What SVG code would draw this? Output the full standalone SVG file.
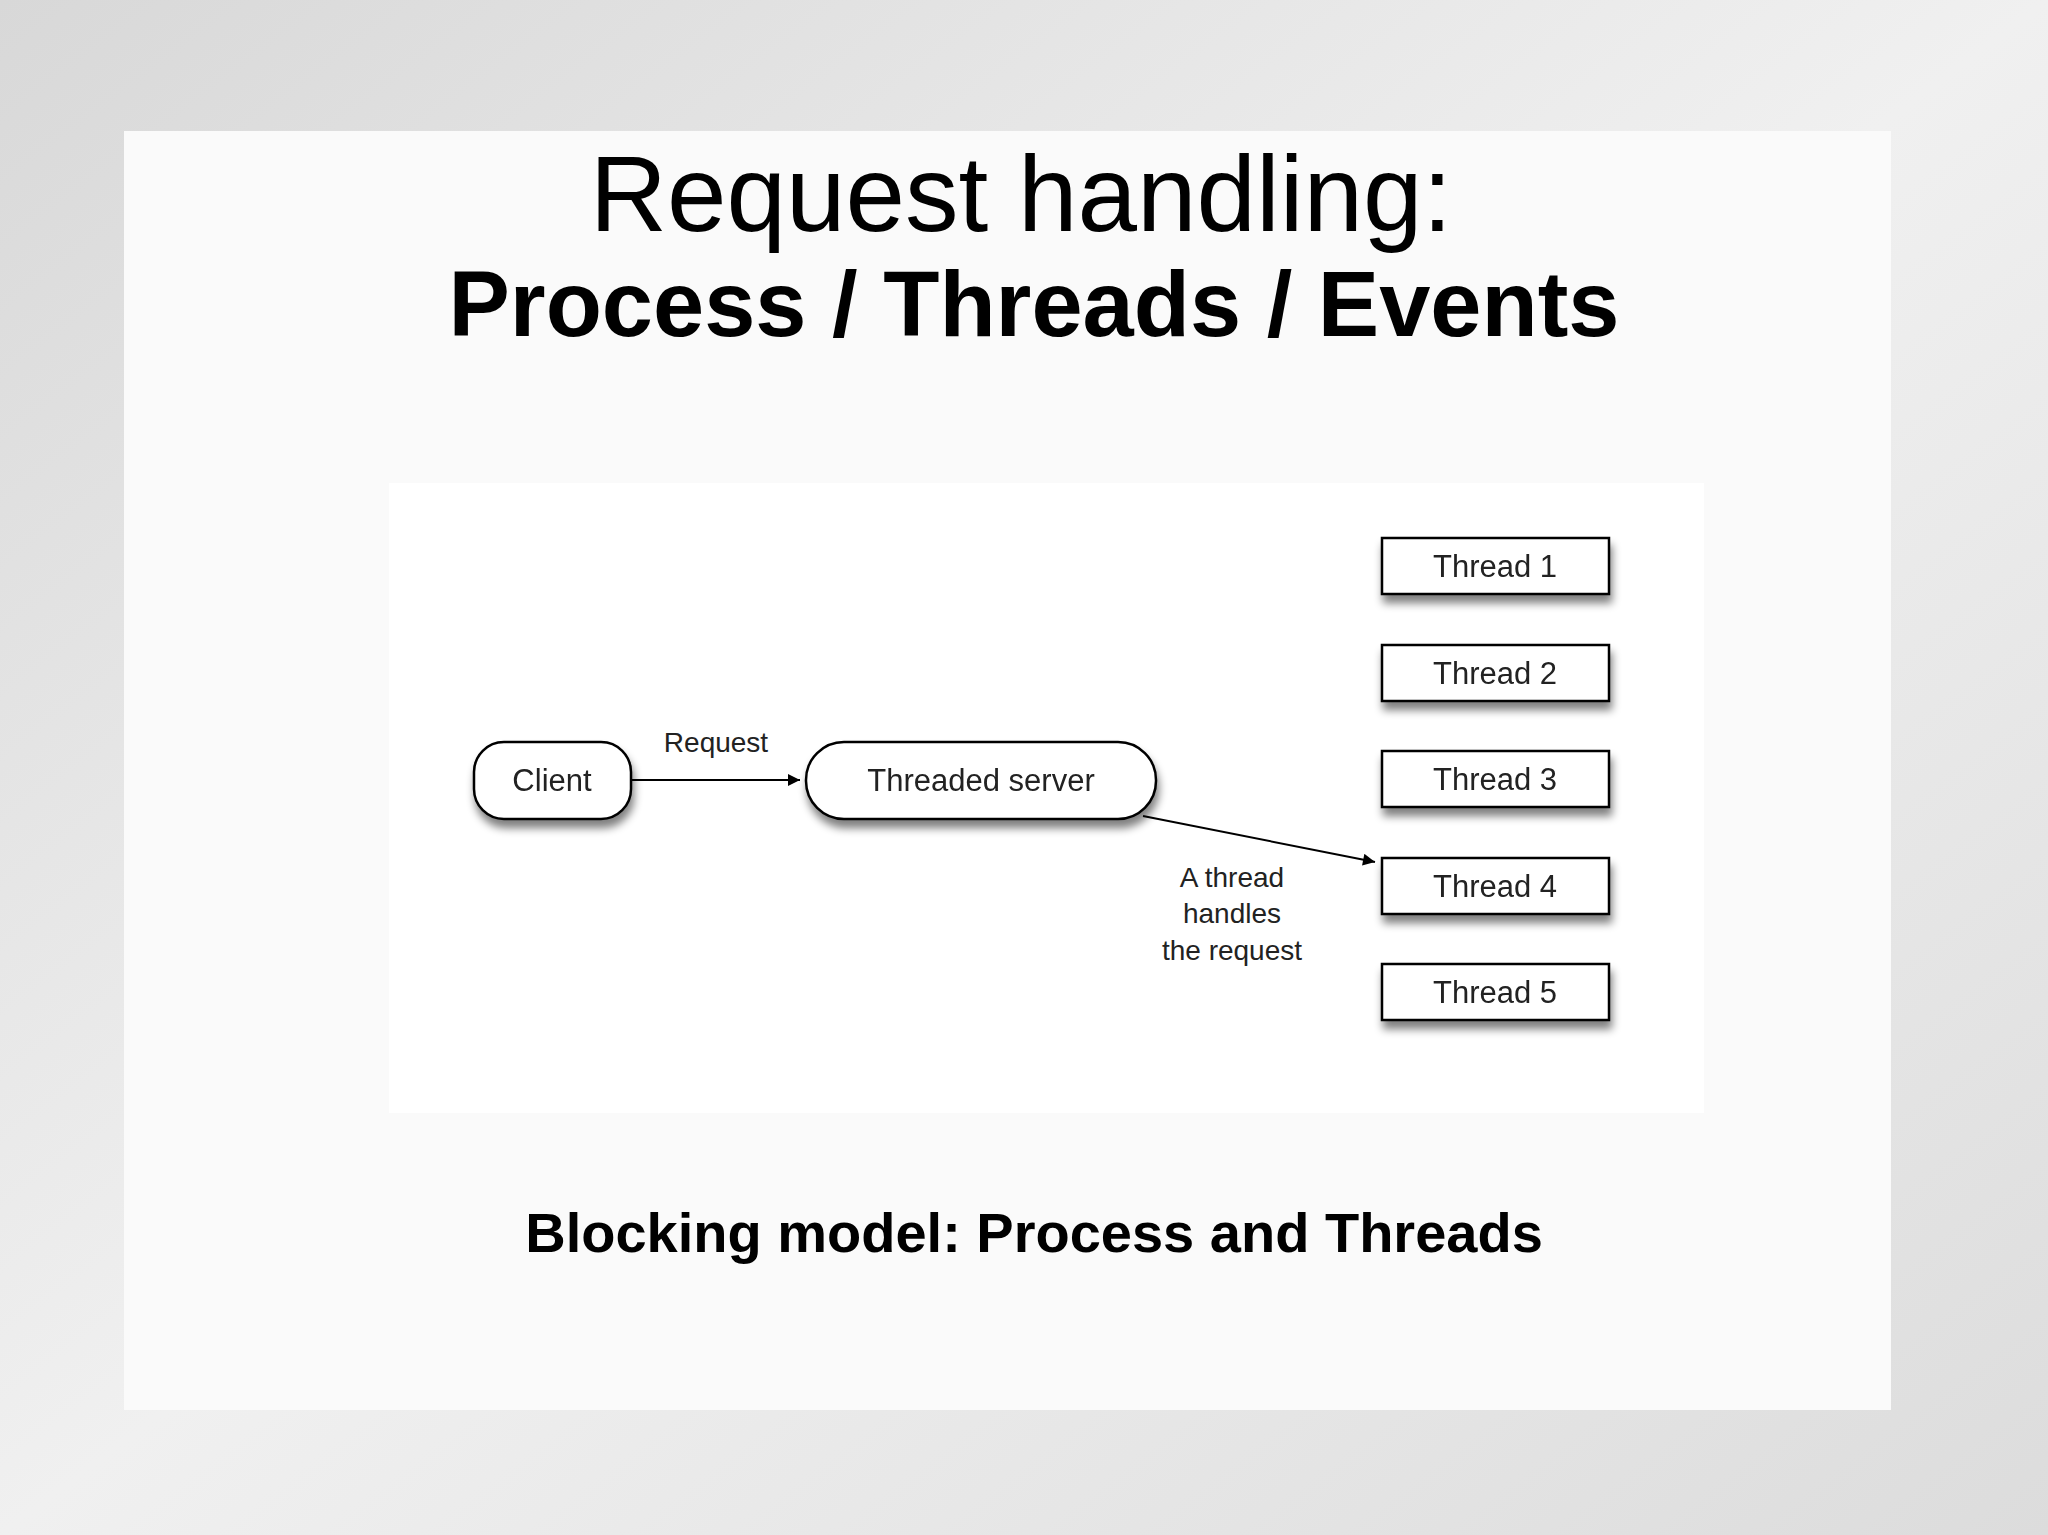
<svg xmlns="http://www.w3.org/2000/svg" width="2048" height="1535" viewBox="0 0 2048 1535">
<defs>
<linearGradient id="bg" x1="0" y1="0" x2="1" y2="1">
<stop offset="0" stop-color="#d8d8d8"/><stop offset="0.5" stop-color="#f0f0f0"/><stop offset="1" stop-color="#dcdcdc"/>
</linearGradient>
<filter id="sh" x="-20%" y="-30%" width="140%" height="170%">
<feGaussianBlur in="SourceAlpha" stdDeviation="4"/><feOffset dx="2" dy="8"/>
<feComponentTransfer><feFuncA type="linear" slope="0.5"/></feComponentTransfer>
<feMerge><feMergeNode/><feMergeNode in="SourceGraphic"/></feMerge>
</filter>
<marker id="ah" viewBox="0 0 10 10" refX="10" refY="5" markerWidth="14" markerHeight="12" markerUnits="userSpaceOnUse" orient="auto">
<path d="M0,0 L10,5 L0,10 z" fill="#000"/>
</marker>
<style>
.box{fill:#fff;stroke:#000;stroke-width:2.5}
.t{font-family:"Liberation Sans",Arial,sans-serif;font-size:31px;fill:#222;text-anchor:middle}
.s{font-family:"Liberation Sans",Arial,sans-serif;font-size:28px;fill:#222;text-anchor:middle}
.c{stroke:#000;stroke-width:2;fill:none;marker-end:url(#ah)}
</style>
</defs>
<rect width="2048" height="1535" fill="url(#bg)"/>
<rect x="124" y="131" width="1767" height="1279" fill="#fafafa"/>
<rect x="389" y="483" width="1315" height="630" fill="#fff"/>
<text x="1021" y="231" font-family="Liberation Sans,Arial,sans-serif" font-size="107" text-anchor="middle">Request handling:</text>
<text x="1034" y="336" font-family="Liberation Sans,Arial,sans-serif" font-size="92" font-weight="bold" text-anchor="middle">Process / Threads / Events</text>
<text x="1034" y="1252" font-family="Liberation Sans,Arial,sans-serif" font-size="56" font-weight="bold" text-anchor="middle">Blocking model: Process and Threads</text>
<g id="connectors">
<line class="c" x1="631" y1="780" x2="800" y2="780"/>
<line class="c" x1="1143" y1="816" x2="1375" y2="862"/>
<text class="s" x="716" y="752">Request</text>
<text class="s" x="1232" y="887">A thread</text>
<text class="s" x="1232" y="923">handles</text>
<text class="s" x="1232" y="960">the request</text>
</g>
<g id="client" filter="url(#sh)"><rect class="box" x="474" y="742" width="157" height="77" rx="30"/><text class="t" x="552" y="791">Client</text></g>
<g id="server" filter="url(#sh)"><rect class="box" x="806" y="742" width="350" height="77" rx="38"/><text class="t" x="981" y="791">Threaded server</text></g>
<g id="thread1" filter="url(#sh)"><rect class="box" x="1382" y="538" width="227" height="56"/><text class="t" x="1495" y="577">Thread 1</text></g>
<g id="thread2" filter="url(#sh)"><rect class="box" x="1382" y="645" width="227" height="56"/><text class="t" x="1495" y="684">Thread 2</text></g>
<g id="thread3" filter="url(#sh)"><rect class="box" x="1382" y="751" width="227" height="56"/><text class="t" x="1495" y="790">Thread 3</text></g>
<g id="thread4" filter="url(#sh)"><rect class="box" x="1382" y="858" width="227" height="56"/><text class="t" x="1495" y="897">Thread 4</text></g>
<g id="thread5" filter="url(#sh)"><rect class="box" x="1382" y="964" width="227" height="56"/><text class="t" x="1495" y="1003">Thread 5</text></g>
</svg>
